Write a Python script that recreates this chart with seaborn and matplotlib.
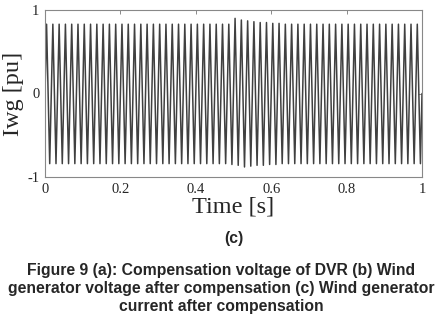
import numpy as np
import pandas as pd
import seaborn as sns
import matplotlib.pyplot as plt

# wind generator current: one positive and one negative peak per cycle (60 Hz, 0..1 s)
freq_hz = 60
pos_peak = [0.83, 0.83, 0.83, 0.83, 0.83, 0.83, 0.83, 0.83, 0.83, 0.83,
            0.83, 0.83, 0.83, 0.83, 0.83, 0.83, 0.83, 0.83, 0.83, 0.83,
            0.83, 0.83, 0.83, 0.83, 0.83, 0.83, 0.83, 0.83, 0.83, 0.83,
            0.90, 0.88, 0.87, 0.86, 0.85, 0.85, 0.84, 0.84, 0.83, 0.83,
            0.83, 0.83, 0.83, 0.83, 0.83, 0.83, 0.83, 0.83, 0.83, 0.83,
            0.83, 0.83, 0.83, 0.83, 0.83, 0.83, 0.83, 0.83, 0.83, 0.83]
neg_peak = [-0.84, -0.84, -0.84, -0.84, -0.84, -0.84, -0.84, -0.84, -0.84, -0.84,
            -0.84, -0.84, -0.84, -0.84, -0.84, -0.84, -0.84, -0.84, -0.84, -0.84,
            -0.84, -0.84, -0.84, -0.84, -0.84, -0.84, -0.84, -0.84, -0.84, -0.85,
            -0.86, -0.88, -0.87, -0.86, -0.86, -0.85, -0.85, -0.84, -0.84, -0.84,
            -0.84, -0.84, -0.84, -0.84, -0.84, -0.84, -0.84, -0.84, -0.84, -0.84,
            -0.84, -0.84, -0.84, -0.84, -0.84, -0.84, -0.84, -0.84, -0.84, -0.84]

x_ticks = [0, 0.2, 0.4, 0.6, 0.8, 1]
y_ticks = [-1, 0, 1]

caption = ("Figure 9 (a): Compensation voltage of DVR (b) Wind\n"
           "generator voltage after compensation (c) Wind generator\n"
           "current after compensation")

# build the waveform: zero, +peak, zero, -peak for each cycle
rows = []
for k in range(len(pos_peak)):
    rows.append(((k + 0.00) / freq_hz, 0.0))
    rows.append(((k + 0.25) / freq_hz, pos_peak[k]))
    rows.append(((k + 0.50) / freq_hz, 0.0))
    rows.append(((k + 0.75) / freq_hz, neg_peak[k]))
rows.append((len(pos_peak) / freq_hz, 0.0))
df = pd.DataFrame(rows, columns=["time", "iwg"])

sns.set_theme(style="white")
plt.rcParams["font.family"] = ["Liberation Serif", "DejaVu Serif"]

fig = plt.figure(figsize=(4.39, 3.24), dpi=100)
ax = fig.add_axes([45 / 439, 1 - 177 / 324, 377 / 439, 167 / 324])

sns.lineplot(data=df, x="time", y="iwg", color="#404040", linewidth=1.1,
             estimator=None, ax=ax)

ax.set_xlim(0, 1)
ax.set_ylim(-1, 1)
ax.set_xticks(x_ticks)
ax.set_xticklabels(["0", "0.2", "0.4", "0.6", "0.8", "1"])
ax.set_yticks(y_ticks)
ax.set_yticklabels(["-1", "0", "1"])
ax.tick_params(direction="in", length=3, width=0.6, color="#777777",
               labelsize=10.5, top=True, right=True, pad=4)
for s in ax.spines.values():
    s.set_color("#888888")
    s.set_linewidth(0.8)

ax.set_xlabel("Time [s]", fontsize=17.5, va="center")
ax.xaxis.set_label_coords(0.5, (177 - 207) / 167)
ax.set_ylabel("Iwg [pu]", fontsize=17.5, va="center")
ax.yaxis.set_label_coords(-(45 - 14) / 377, 0.5)

fig.text(233.5 / 439, 1 - 238 / 324, "(c)", ha="center", va="center",
         fontsize=11.3, fontweight="bold", family=["Liberation Sans", "DejaVu Sans"])
fig.text(221 / 439, 1 - 288 / 324, caption, ha="center", va="center",
         fontsize=11.3, fontweight="bold", linespacing=1.25,
         family=["Liberation Sans", "DejaVu Sans"])

fig.savefig("out.png", dpi=100)
